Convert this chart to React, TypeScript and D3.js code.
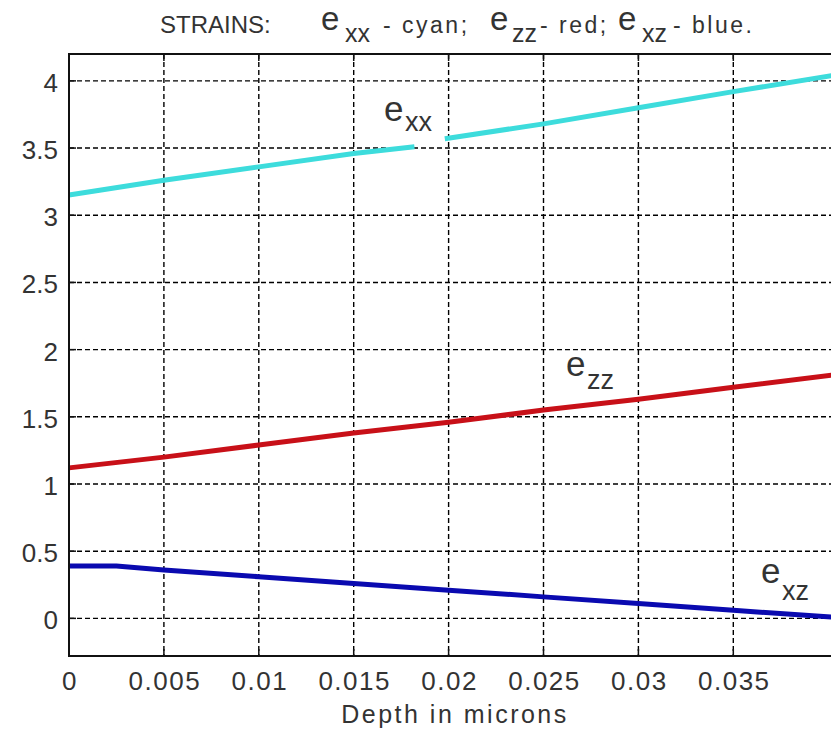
import React, { useEffect, useRef } from 'react';
import * as d3 from 'd3';

// Depth (microns) and strain values
const exxDepthA = [0, 0.005, 0.01, 0.015, 0.0182];
const exxValA = [3.15, 3.26, 3.36, 3.46, 3.51];
const exxDepthB = [0.0198, 0.025, 0.03, 0.035, 0.0402];
const exxValB = [3.57, 3.68, 3.80, 3.92, 4.04];
const ezzDepth = [0, 0.005, 0.01, 0.015, 0.02, 0.025, 0.03, 0.035, 0.0402];
const ezzVal = [1.12, 1.2, 1.29, 1.38, 1.46, 1.55, 1.63, 1.72, 1.81];
const exzDepth = [0, 0.0025, 0.005, 0.01, 0.015, 0.02, 0.025, 0.03, 0.035, 0.0402];
const exzVal = [0.39, 0.39, 0.36, 0.31, 0.26, 0.21, 0.16, 0.11, 0.06, 0.01];

const xTicks = [0, 0.005, 0.01, 0.015, 0.02, 0.025, 0.03, 0.035];
const yTicks = [0, 0.5, 1, 1.5, 2, 2.5, 3, 3.5, 4];

const App = () => {
  const ref = useRef<SVGSVGElement>(null);

  useEffect(() => {
    const svg = d3.select(ref.current);
    svg.selectAll('*').remove();

    const left = 69, top = 54, right = 832, bottom = 656;
    const font = '"Liberation Sans", Arial, sans-serif';
    const ink = '#333';

    const x = d3.scaleLinear().domain([0, 0.0402]).range([left, right]);
    const y = d3.scaleLinear().domain([-0.28, 4.2]).range([bottom, top]);

    // grid
    const grid = svg.append('g');
    xTicks.slice(1).forEach(t => {
      grid.append('line')
        .attr('x1', x(t)).attr('x2', x(t))
        .attr('y1', top).attr('y2', bottom)
        .attr('stroke', '#000').attr('stroke-width', 1.4)
        .attr('stroke-dasharray', '5,3');
    });
    yTicks.forEach(t => {
      grid.append('line')
        .attr('x1', left).attr('x2', right)
        .attr('y1', y(t)).attr('y2', y(t))
        .attr('stroke', '#000').attr('stroke-width', 1.4)
        .attr('stroke-dasharray', '5,3');
    });

    // lines
    const line = d3.line<[number, number]>()
      .x(d => x(d[0]))
      .y(d => y(d[1]));
    const series = [
      { xs: exxDepthA, ys: exxValA, color: '#3ddcdc' },
      { xs: exxDepthB, ys: exxValB, color: '#3ddcdc' },
      { xs: ezzDepth, ys: ezzVal, color: '#c81018' },
      { xs: exzDepth, ys: exzVal, color: '#0a0ab0' },
    ];
    series.forEach(s => {
      svg.append('path')
        .datum(s.xs.map((d, i) => [d, s.ys[i]] as [number, number]))
        .attr('fill', 'none')
        .attr('stroke', s.color)
        .attr('stroke-width', 5)
        .attr('d', line);
    });

    // axes box
    const box = '#111';
    svg.append('line').attr('x1', left).attr('x2', left).attr('y1', top - 1).attr('y2', bottom + 1)
      .attr('stroke', box).attr('stroke-width', 2);
    svg.append('line').attr('x1', left).attr('x2', right).attr('y1', bottom).attr('y2', bottom)
      .attr('stroke', box).attr('stroke-width', 2);
    svg.append('line').attr('x1', left).attr('x2', right).attr('y1', top).attr('y2', top)
      .attr('stroke', box).attr('stroke-width', 2);

    // short solid tick marks inside the box
    xTicks.slice(1).forEach(t => {
      svg.append('line').attr('x1', x(t)).attr('x2', x(t)).attr('y1', top).attr('y2', top + 7)
        .attr('stroke', box).attr('stroke-width', 1.5);
      svg.append('line').attr('x1', x(t)).attr('x2', x(t)).attr('y1', bottom).attr('y2', bottom - 7)
        .attr('stroke', box).attr('stroke-width', 1.5);
    });
    yTicks.forEach(t => {
      svg.append('line').attr('x1', left).attr('x2', left + 7).attr('y1', y(t)).attr('y2', y(t))
        .attr('stroke', box).attr('stroke-width', 1.5);
    });

    // tick labels
    xTicks.forEach(t => {
      svg.append('text')
        .attr('x', x(t) + 1).attr('y', 690)
        .attr('text-anchor', 'middle')
        .style('font-family', font).style('font-size', '26px')
        .style('letter-spacing', '1.5px').attr('fill', ink)
        .text(String(t));
    });
    yTicks.forEach(t => {
      svg.append('text')
        .attr('x', 58).attr('y', y(t) + 11)
        .attr('text-anchor', 'end')
        .style('font-family', font).style('font-size', '26px').attr('fill', ink)
        .text(String(t));
    });

    svg.append('text')
      .attr('x', 455).attr('y', 723)
      .attr('text-anchor', 'middle')
      .style('font-family', font).style('font-size', '25px')
      .style('letter-spacing', '2.5px').attr('fill', ink)
      .text('Depth in microns');

    // title pieces: [text, x, baseline, size, letter-spacing]
    const titleParts: [string, number, number, number, number][] = [
      ['STRAINS:', 160, 33, 24, 0],
      ['e', 321, 30, 33, 0], ['xx', 345, 42, 25, 0], ['- cyan;', 383, 33, 23, 2.5],
      ['e', 490, 30, 33, 0], ['zz', 512, 42, 25, 0], ['- red;', 540, 33, 23, 2.5],
      ['e', 618, 30, 33, 0], ['xz', 642, 42, 25, 0], ['- blue.', 673, 33, 23, 2.5],
    ];
    const title = svg.append('text').style('font-family', font).attr('fill', ink);
    titleParts.forEach(([t, tx, ty, fs, ls]) => {
      title.append('tspan').attr('x', tx).attr('y', ty)
        .style('font-size', `${fs}px`).style('letter-spacing', `${ls}px`)
        .text(t);
    });

    // in-plot labels: [base, sub, x, baseline, sub baseline]
    const labels: [string, string, number, number, number][] = [
      ['e', 'xx', 384, 121, 131],
      ['e', 'zz', 566, 376, 389],
      ['e', 'xz', 761, 583, 600],
    ];
    labels.forEach(([a, b, lx, ly, sy]) => {
      const t = svg.append('text').style('font-family', font).attr('fill', ink);
      t.append('tspan').attr('x', lx).attr('y', ly).style('font-size', '35px').text(a);
      t.append('tspan').attr('x', lx + 21).attr('y', sy).style('font-size', '27px').text(b);
    });
  }, []);

  return (
    <svg ref={ref} width={831} height={734}
      style={{ position: 'absolute', left: 0, top: 0, background: '#fff' }} />
  );
};

export default App;
